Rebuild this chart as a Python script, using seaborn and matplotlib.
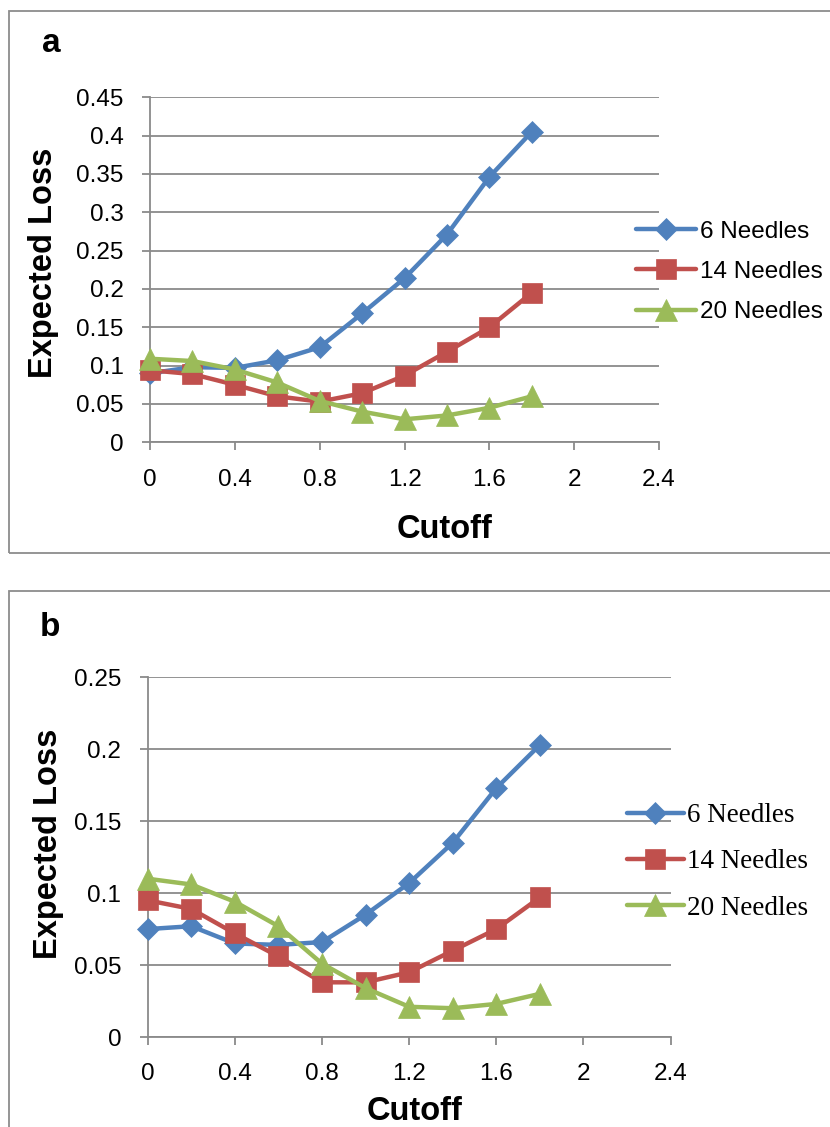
import numpy as np
import pandas as pd
import matplotlib
matplotlib.use("Agg")
import matplotlib.pyplot as plt
import matplotlib.patches as patches
import seaborn as sns

# data
cutoff = [0, 0.2, 0.4, 0.6, 0.8, 1.0, 1.2, 1.4, 1.6, 1.8]
series_names = ["6 Needles", "14 Needles", "20 Needles"]

# panel a
loss_a_6 = [0.090, 0.098, 0.097, 0.107, 0.124, 0.168, 0.214, 0.271, 0.346, 0.405]
loss_a_14 = [0.094, 0.089, 0.075, 0.060, 0.053, 0.064, 0.087, 0.118, 0.150, 0.195]
loss_a_20 = [0.109, 0.106, 0.095, 0.078, 0.054, 0.040, 0.030, 0.035, 0.045, 0.060]

# panel b
loss_b_6 = [0.075, 0.077, 0.065, 0.064, 0.066, 0.085, 0.107, 0.135, 0.173, 0.203]
loss_b_14 = [0.095, 0.089, 0.072, 0.056, 0.038, 0.038, 0.045, 0.060, 0.075, 0.097]
loss_b_20 = [0.110, 0.106, 0.094, 0.077, 0.051, 0.034, 0.021, 0.020, 0.023, 0.030]

x_ticks = [0, 0.4, 0.8, 1.2, 1.6, 2.0, 2.4]
x_ticklabels = ["0", "0.4", "0.8", "1.2", "1.6", "2", "2.4"]
y_ticks_a = [0, 0.05, 0.1, 0.15, 0.2, 0.25, 0.3, 0.35, 0.4, 0.45]
y_ticklabels_a = ["0", "0.05", "0.1", "0.15", "0.2", "0.25", "0.3", "0.35", "0.4", "0.45"]
y_ticks_b = [0, 0.05, 0.1, 0.15, 0.2, 0.25]
y_ticklabels_b = ["0", "0.05", "0.1", "0.15", "0.2", "0.25"]

colors = {"6 Needles": "#4F81BD", "14 Needles": "#C0504D", "20 Needles": "#9BBB59"}
markers = {"6 Needles": "D", "14 Needles": "s", "20 Needles": "^"}
msizes = {"6 Needles": 11.5, "14 Needles": 14.5, "20 Needles": 15.5}
grid_col = "#8a8a8a"

sns.set_theme(style="white")
plt.rcParams['font.family'] = ['Liberation Sans', 'DejaVu Sans']
plt.rcParams['text.color'] = 'black'
plt.rcParams['axes.labelcolor'] = 'black'


def make_df(v6, v14, v20):
    df = pd.DataFrame({"Cutoff": cutoff, "6 Needles": v6, "14 Needles": v14, "20 Needles": v20})
    return df.melt(id_vars="Cutoff", var_name="series", value_name="loss")


fig = plt.figure(figsize=(8.3, 11.27), dpi=100)

# panel frames
fig.patches.append(patches.Rectangle((8.5 / 830, 1 - 553 / 1127), 1.0, (553 - 11) / 1127,
                                     transform=fig.transFigure, fill=False,
                                     ec="#8c8c8c", lw=1.3))
fig.patches.append(patches.Rectangle((8.5 / 830, -0.02), 1.0, 1 - 591 / 1127 + 0.02,
                                     transform=fig.transFigure, fill=False,
                                     ec="#8c8c8c", lw=1.3))

panels = [
    dict(pos=[150 / 830, 1 - 442.3 / 1127, 509 / 830, 345 / 1127],
         df=make_df(loss_a_6, loss_a_14, loss_a_20), ylim=0.45,
         yt=y_ticks_a, ytl=y_ticklabels_a, letter="a", letter_xy=(51, 44),
         ylab_xy=(-0.209, 0.52), xlab_xy=(0.578, -0.254),
         leg_xy=(636 / 830, 1 - 272 / 1127),
         leg_font=dict(family=['Liberation Sans', 'DejaVu Sans'], size=17.5),
         leg_kw=dict(handlelength=2.45, handletextpad=0.18, labelspacing=0.76)),
    dict(pos=[147.7 / 830, 1 - 1037 / 1127, 522.9 / 830, 359.7 / 1127],
         df=make_df(loss_b_6, loss_b_14, loss_b_20), ylim=0.25,
         yt=y_ticks_b, ytl=y_ticklabels_b, letter="b", letter_xy=(50, 627),
         ylab_xy=(-0.189, 0.538), xlab_xy=(0.510, -0.208),
         leg_xy=(626.7 / 830, 1 - 862 / 1127),
         leg_font=dict(family=['Liberation Serif', 'DejaVu Serif'], size=19.5),
         leg_kw=dict(handlelength=2.1, handletextpad=0.12, labelspacing=0.78)),
]

for p in panels:
    ax = fig.add_axes(p["pos"])
    for name in series_names:
        sub = p["df"][p["df"]["series"] == name]
        sns.lineplot(data=sub, x="Cutoff", y="loss", ax=ax, color=colors[name],
                     marker=markers[name], markersize=msizes[name],
                     markeredgecolor=colors[name], markeredgewidth=0.5,
                     lw=3.2, label=name, clip_on=False, zorder=3)

    ax.set_xlim(0, 2.4)
    ax.set_ylim(0, p["ylim"])
    ax.set_xticks(x_ticks)
    ax.set_xticklabels(x_ticklabels)
    ax.set_yticks(p["yt"])
    ax.set_yticklabels(p["ytl"])
    ax.tick_params(axis="x", direction="out", length=6, width=1.3, color=grid_col,
                   labelcolor="black", labelsize=17.5, pad=13, bottom=True)
    ax.tick_params(axis="y", direction="out", length=6, width=1.3, color=grid_col,
                   labelcolor="black", labelsize=17.5, pad=13, left=True)
    ax.yaxis.grid(True, color=grid_col, lw=1.3)
    ax.xaxis.grid(False)
    for s in ["top", "right"]:
        ax.spines[s].set_visible(False)
    for s in ["left", "bottom"]:
        ax.spines[s].set_color(grid_col)
        ax.spines[s].set_linewidth(1.3)

    ax.set_xlabel("Cutoff", fontsize=23.5, fontweight="bold")
    ax.set_ylabel("Expected Loss", fontsize=23.5, fontweight="bold")
    ax.xaxis.set_label_coords(*p["xlab_xy"])
    ax.yaxis.set_label_coords(*p["ylab_xy"])
    ax.xaxis.label.set_va("center")
    ax.yaxis.label.set_va("center")

    handles, labels = ax.get_legend_handles_labels()
    ax.get_legend().remove()
    fig.legend(handles, labels, loc="center left", bbox_to_anchor=p["leg_xy"],
               bbox_transform=fig.transFigure, frameon=False, borderpad=0,
               borderaxespad=0, prop=p["leg_font"], **p["leg_kw"])

    lx, ly = p["letter_xy"]
    fig.text(lx / 830, 1 - ly / 1127, p["letter"], fontsize=24, fontweight="bold",
             ha="center", va="center")

fig.savefig("out.png", dpi=100)
